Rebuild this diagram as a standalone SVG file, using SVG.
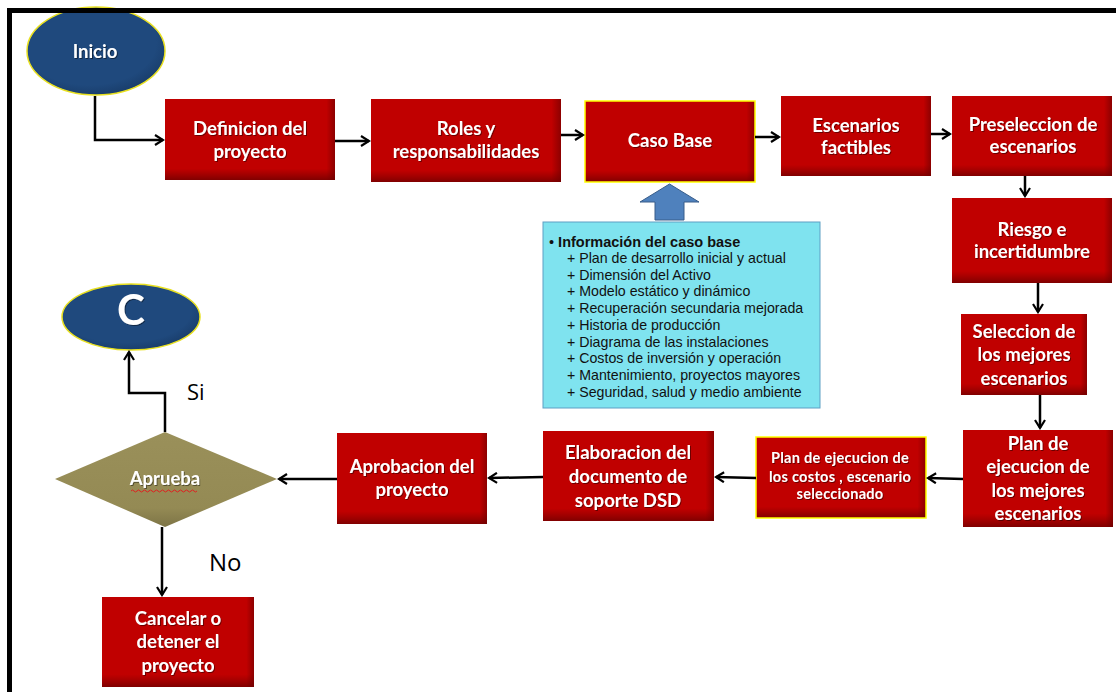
<svg xmlns="http://www.w3.org/2000/svg" width="1116" height="692" viewBox="0 0 1116 692">
  <defs>
    <linearGradient id="redV" x1="0" y1="0" x2="0" y2="1">
      <stop offset="0" stop-color="#7a0000" stop-opacity="0"/>
      <stop offset="0.86" stop-color="#7a0000" stop-opacity="0"/>
      <stop offset="1" stop-color="#6a0000" stop-opacity="0.75"/>
    </linearGradient>
    <linearGradient id="redH" x1="0" y1="0" x2="1" y2="0">
      <stop offset="0" stop-color="#6a0000" stop-opacity="0"/>
      <stop offset="0.95" stop-color="#6a0000" stop-opacity="0"/>
      <stop offset="1" stop-color="#6a0000" stop-opacity="0.6"/>
    </linearGradient>
    <linearGradient id="oliveV" x1="0" y1="0" x2="0" y2="1">
      <stop offset="0" stop-color="#9a905a"/>
      <stop offset="0.8" stop-color="#948a54"/>
      <stop offset="1" stop-color="#7d7446"/>
    </linearGradient>
    <radialGradient id="navy" cx="0.45" cy="0.4" r="0.65">
      <stop offset="0.75" stop-color="#1f497d"/>
      <stop offset="1" stop-color="#173a66"/>
    </radialGradient>
    <filter id="txtShadow" x="-10%" y="-20%" width="120%" height="140%">
      <feDropShadow dx="1" dy="1" stdDeviation="0.6" flood-color="#000" flood-opacity="0.45"/>
    </filter>
    <marker id="arrow" viewBox="0 0 12 12" refX="10" refY="6" markerWidth="12" markerHeight="12" markerUnits="userSpaceOnUse" orient="auto">
      <path d="M2,1 L10,6 L2,11" fill="none" stroke="#000" stroke-width="2.2" stroke-linejoin="miter"/>
    </marker>
    <style>
      .box { fill: #c00000; }
      .shadeV { fill: url(#redV); }
      .shadeH { fill: url(#redH); }
      .hl { stroke: #ffff00; stroke-width: 1.5; }
      .lbl { font-family: Lato, "Liberation Sans", sans-serif; font-weight: bold; font-size: 18.5px; fill: #ffffff; text-anchor: middle; filter: url(#txtShadow); }
      .small { font-size: 14.5px; letter-spacing: 0.3px; }
      .oval { fill: url(#navy); stroke: #e8e020; stroke-width: 1.5; }
      .conn { fill: none; stroke: #000; stroke-width: 2.5; marker-end: url(#arrow); }
      .info { font-family: "Liberation Sans", Arial, sans-serif; font-size: 14px; fill: #111; }
      .yn { font-family: "Open Sans", "Liberation Sans", sans-serif; font-size: 22px; fill: #000; }
    </style>
  </defs>

  <rect x="0" y="0" width="1116" height="692" fill="#ffffff"/>

  <!-- start / end terminators -->
  <g id="inicio">
    <ellipse class="oval" cx="96" cy="51" rx="69" ry="44"/>
    <text class="lbl" x="95" y="58">Inicio</text>
  </g>

  <!-- outer frame (top and left edges) -->
  <g id="frame" fill="none" stroke="#000" stroke-width="5">
    <line x1="7" y1="10.5" x2="1116" y2="10.5"/>
    <line x1="9.5" y1="8" x2="9.5" y2="692"/>
  </g>

  <g id="definicion">
    <rect class="box" x="165" y="99" width="170" height="81"/>
    <rect class="shadeV" x="165" y="99" width="170" height="81"/>
    <rect class="shadeH" x="165" y="99" width="170" height="81"/>
    <text class="lbl" x="250" y="135">Definicion del</text>
    <text class="lbl" x="250" y="158">proyecto</text>
  </g>

  <g id="roles">
    <rect class="box" x="371" y="99" width="190" height="83"/>
    <rect class="shadeV" x="371" y="99" width="190" height="83"/>
    <rect class="shadeH" x="371" y="99" width="190" height="83"/>
    <text class="lbl" x="466" y="135">Roles y</text>
    <text class="lbl" x="466" y="158">responsabilidades</text>
  </g>

  <g id="caso-base">
    <rect class="box" x="585" y="101" width="170" height="81"/>
    <rect class="shadeV" x="585" y="101" width="170" height="81"/>
    <rect class="shadeH" x="585" y="101" width="170" height="81"/>
    <rect x="585" y="101" width="170" height="81" fill="none" class="hl"/>
    <text class="lbl" x="670" y="147">Caso Base</text>
  </g>

  <g id="escenarios-factibles">
    <rect class="box" x="781" y="96" width="150" height="80"/>
    <rect class="shadeV" x="781" y="96" width="150" height="80"/>
    <rect class="shadeH" x="781" y="96" width="150" height="80"/>
    <text class="lbl" x="856" y="132">Escenarios</text>
    <text class="lbl" x="856" y="154">factibles</text>
  </g>

  <g id="preseleccion">
    <rect class="box" x="952" y="96" width="160" height="80"/>
    <rect class="shadeV" x="952" y="96" width="160" height="80"/>
    <rect class="shadeH" x="952" y="96" width="160" height="80"/>
    <text class="lbl" x="1033" y="131">Preseleccion de</text>
    <text class="lbl" x="1033" y="153">escenarios</text>
  </g>

  <g id="riesgo">
    <rect class="box" x="952" y="198" width="160" height="85"/>
    <rect class="shadeV" x="952" y="198" width="160" height="85"/>
    <rect class="shadeH" x="952" y="198" width="160" height="85"/>
    <text class="lbl" x="1032" y="236">Riesgo e</text>
    <text class="lbl" x="1032" y="258">incertidumbre</text>
  </g>

  <g id="seleccion">
    <rect class="box" x="961" y="314" width="126" height="81"/>
    <rect class="shadeV" x="961" y="314" width="126" height="81"/>
    <rect class="shadeH" x="961" y="314" width="126" height="81"/>
    <text class="lbl" x="1024" y="338">Seleccion de</text>
    <text class="lbl" x="1024" y="361">los mejores</text>
    <text class="lbl" x="1024" y="385">escenarios</text>
  </g>

  <g id="plan-mejores">
    <rect class="box" x="963" y="430" width="150" height="97"/>
    <rect class="shadeV" x="963" y="430" width="150" height="97"/>
    <rect class="shadeH" x="963" y="430" width="150" height="97"/>
    <text class="lbl" x="1038" y="450">Plan de</text>
    <text class="lbl" x="1038" y="473">ejecucion de</text>
    <text class="lbl" x="1038" y="497">los mejores</text>
    <text class="lbl" x="1038" y="520">escenarios</text>
  </g>

  <g id="plan-costos">
    <rect class="box" x="756" y="437" width="170" height="81"/>
    <rect class="shadeV" x="756" y="437" width="170" height="81"/>
    <rect class="shadeH" x="756" y="437" width="170" height="81"/>
    <rect x="756" y="437" width="170" height="81" fill="none" class="hl"/>
    <text class="lbl small" x="840" y="463">Plan de ejecucion de</text>
    <text class="lbl small" x="840" y="482">los costos  , escenario</text>
    <text class="lbl small" x="840" y="499">seleccionado</text>
  </g>

  <g id="elaboracion">
    <rect class="box" x="543" y="431" width="171" height="90"/>
    <rect class="shadeV" x="543" y="431" width="171" height="90"/>
    <rect class="shadeH" x="543" y="431" width="171" height="90"/>
    <text class="lbl" x="628" y="459">Elaboracion del</text>
    <text class="lbl" x="628" y="483">documento de</text>
    <text class="lbl" x="628" y="507">soporte DSD</text>
  </g>

  <g id="aprobacion">
    <rect class="box" x="337" y="433" width="150" height="91"/>
    <rect class="shadeV" x="337" y="433" width="150" height="91"/>
    <rect class="shadeH" x="337" y="433" width="150" height="91"/>
    <text class="lbl" x="412" y="473">Aprobacion del</text>
    <text class="lbl" x="412" y="496">proyecto</text>
  </g>

  <g id="aprueba">
    <polygon points="55,479 165,432 277,479 165,527" fill="url(#oliveV)"/>
    <text class="lbl" x="165" y="485">Aprueba</text>
    <path d="M131,491 q1.5,-2 3,0 t3,0 t3,0 t3,0 t3,0 t3,0 t3,0 t3,0 t3,0 t3,0 t3,0 t3,0 t3,0 t3,0 t3,0 t3,0 t3,0 t3,0 t3,0 t3,0 t3,0 t3,0" fill="none" stroke="#e02020" stroke-width="1"/>
  </g>

  <g id="conector-c">
    <ellipse class="oval" cx="131" cy="317" rx="69" ry="33"/>
    <text class="lbl" x="131" y="325" style="font-size:42px">C</text>
  </g>

  <g id="cancelar">
    <rect class="box" x="102" y="597" width="152" height="90"/>
    <rect class="shadeV" x="102" y="597" width="152" height="90"/>
    <rect class="shadeH" x="102" y="597" width="152" height="90"/>
    <text class="lbl" x="178" y="625">Cancelar o</text>
    <text class="lbl" x="178" y="648">detener el</text>
    <text class="lbl" x="178" y="672">proyecto</text>
  </g>

  <!-- base case information panel -->
  <g id="info-caso-base">
    <path d="M655,220 L655,202 L640,202 L669.5,184 L699,202 L684,202 L684,220 Z" fill="#4f81bd" stroke="#385d8a" stroke-width="1"/>
    <rect x="543" y="222" width="277" height="186" fill="#7fe3ef" stroke="#5f9fc4" stroke-width="1"/>
    <text class="info" x="549" y="247" style="font-weight:bold;font-size:14.5px"><tspan font-weight="normal">•</tspan> Información del caso base</text>
    <g class="info" style="font-size:14.2px">
      <text x="567" y="263">+ Plan de desarrollo inicial y actual</text>
      <text x="567" y="280">+ Dimensión del Activo</text>
      <text x="567" y="296">+ Modelo estático y dinámico</text>
      <text x="567" y="313">+ Recuperación secundaria mejorada</text>
      <text x="567" y="330">+ Historia de producción</text>
      <text x="567" y="347">+ Diagrama de las instalaciones</text>
      <text x="567" y="363">+ Costos de inversión y operación</text>
      <text x="567" y="380">+ Mantenimiento, proyectos mayores</text>
      <text x="567" y="397">+ Seguridad, salud y medio ambiente</text>
    </g>
  </g>

  <!-- flow connectors -->
  <g id="connectors">
    <path class="conn" d="M95,96 L95,140 L163,140"/>
    <path class="conn" d="M335,141 L369,141"/>
    <path class="conn" d="M561,135 L583,135"/>
    <path class="conn" d="M755,137 L779,137"/>
    <path class="conn" d="M931,134 L950,134"/>
    <path class="conn" d="M1025,176 L1025,196"/>
    <path class="conn" d="M1038,283 L1038,312"/>
    <path class="conn" d="M1040,395 L1040,428"/>
    <path class="conn" d="M963,479 L928,478"/>
    <path class="conn" d="M756,478 L716,477"/>
    <path class="conn" d="M543,477 L489,478"/>
    <path class="conn" d="M337,479 L279,479"/>
    <path class="conn" d="M165,432 L165,393 L129,393 L129,352"/>
    <path class="conn" d="M162,527 L162,595"/>
  </g>

  <g id="branch-labels">
    <text class="yn" x="187" y="400">Si</text>
    <text class="yn" x="209" y="571" style="font-size:24px">No</text>
  </g>
</svg>
